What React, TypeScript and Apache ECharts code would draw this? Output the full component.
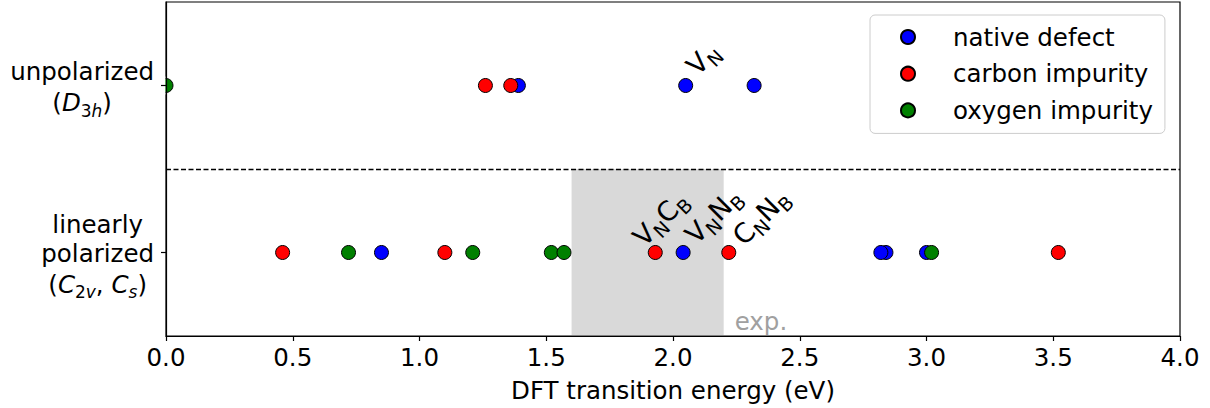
import React, { useEffect, useRef } from 'react';
import * as echarts from 'echarts';

// ---- data ----
const seriesNames = ['native defect', 'carbon impurity', 'oxygen impurity'];
const seriesColors = ['#0000ff', '#ff0000', '#008000'];
// row 1 = unpolarized (D3h), row 0 = linearly polarized (C2v, Cs)
const nativeTop = [1.39, 2.05, 2.32];
const nativeBottom = [0.85, 2.04, 2.84, 2.82, 3.0];
const carbonTop = [1.26, 1.36];
const carbonBottom = [0.46, 1.1, 1.93, 2.22, 3.52];
const oxygenTop = [0.0];
const oxygenBottom = [0.72, 1.21, 1.52, 1.57, 3.02];
const expRange = [1.6, 2.2];
const xMin = 0;
const xMax = 4;
const xStep = 0.5;
const rowLabels = {
  1: '{n|unpolarized}\n{n|(}{i|D}{s|3}{si|h}{n|)}',
  0: '{n|linearly}\n{n|polarized}\n{n|(}{i|C}{s|2}{si|v}{n|, }{i|C}{si|s}{n|)}',
};
const annotations = [
  { text: '{b|V}{s|N}', x: nativeTop[1], row: 1, dx: 17, dy: -27 },
  { text: '{b|V}{s|N}{b|C}{s|B}', x: carbonBottom[2], row: 0, dx: 5, dy: -34 },
  { text: '{b|V}{s|N}{b|N}{s|B}', x: nativeBottom[1], row: 0, dx: 30, dy: -37 },
  { text: '{b|C}{s|N}{b|N}{s|B}', x: carbonBottom[3], row: 0, dx: 32, dy: -36 },
];

const FONT = 'DejaVu Sans';

export default function App() {
  const ref = useRef<HTMLDivElement>(null);
  useEffect(() => {
    if (!ref.current) return;
    const chart = echarts.init(ref.current, undefined, { renderer: 'svg' });
    const rows = [
      [nativeTop, nativeBottom],
      [carbonTop, carbonBottom],
      [oxygenTop, oxygenBottom],
    ];
    const scatterSeries = rows.map((r, i) => ({
      name: seriesNames[i],
      type: 'scatter',
      symbol: 'circle',
      symbolSize: 14,
      z: 2,
      itemStyle: { color: seriesColors[i], borderColor: '#000', borderWidth: 1, opacity: 1 },
      data: [...r[0].map((x) => [x, 1]), ...r[1].map((x) => [x, 0])],
    }));
    const rowRich = {
      n: { fontFamily: FONT, fontSize: 24.5, lineHeight: 29, color: '#000', align: 'center' },
      i: { fontFamily: FONT, fontSize: 24.5, lineHeight: 29, color: '#000', fontStyle: 'italic', align: 'center' },
      s: { fontFamily: FONT, fontSize: 17, lineHeight: 33, color: '#000', verticalAlign: 'bottom', align: 'center' },
      si: { fontFamily: FONT, fontSize: 17, lineHeight: 33, color: '#000', fontStyle: 'italic', verticalAlign: 'bottom', align: 'center' },
    };
    const option: any = {
      animation: false,
      grid: {
        left: 166,
        right: 30,
        top: 2,
        bottom: 72,
        show: true,
        borderColor: '#000',
        borderWidth: 1.2,
        backgroundColor: 'transparent',
      },
      legend: {
        data: seriesNames.map((n) => ({ name: n, icon: 'circle' })),
        orient: 'vertical',
        left: 870,
        top: 15,
        itemWidth: 14,
        itemHeight: 14,
        itemGap: 6.7,
        padding: [7, 12, 8, 30],
        borderColor: '#cccccc',
        borderWidth: 1,
        borderRadius: 5,
        backgroundColor: 'rgba(255,255,255,0.8)',
        textStyle: { fontFamily: FONT, fontSize: 24.5, lineHeight: 30, color: '#000', padding: [0, 0, 0, 33] },
      },
      xAxis: {
        type: 'value',
        min: xMin,
        max: xMax,
        interval: xStep,
        name: 'DFT transition energy (eV)',
        nameLocation: 'middle',
        nameGap: 42,
        nameTextStyle: { fontFamily: FONT, fontSize: 24.5, color: '#000' },
        axisLine: { show: true, onZero: false, lineStyle: { color: '#000', width: 1.2 } },
        axisTick: { show: true, length: 5, lineStyle: { color: '#000', width: 1.2 } },
        axisLabel: {
          fontFamily: FONT,
          fontSize: 24.5,
          color: '#000',
          margin: 9,
          formatter: (v: number) => v.toFixed(1),
        },
        splitLine: { show: false },
      },
      yAxis: {
        type: 'value',
        min: -0.5,
        max: 1.5,
        z: 4,
        axisLine: { show: true, onZero: false, lineStyle: { color: '#000', width: 1.2 } },
        axisTick: { show: true, length: 5, customValues: [0, 1], lineStyle: { color: '#000', width: 1.2 } },
        axisLabel: {
          customValues: [0, 1],
          margin: 12,
          padding: [5, 0, 0, 0],
          formatter: (v: number) => (rowLabels as any)[Math.round(v)] || '',
          rich: rowRich,
        },
        splitLine: { show: false },
      },
      series: [
        ...scatterSeries,
        {
          name: 'divider',
          type: 'scatter',
          data: [],
          z: 10,
          markLine: {
            silent: true,
            symbol: 'none',
            label: { show: false },
            lineStyle: { color: '#000', width: 1.3, type: [5, 2.5] },
            data: [{ yAxis: 0.5 }],
          },
          markArea: {
            silent: true,
            itemStyle: { color: 'rgba(128,128,128,0.3)' },
            label: {
              show: true,
              position: ['100%', '100%'],
              align: 'left',
              verticalAlign: 'middle',
              offset: [11, -15],
              fontFamily: FONT,
              fontSize: 24.5,
              color: '#a0a0a0',
              formatter: 'exp.',
            },
            data: [[{ xAxis: expRange[0], yAxis: -0.5 }, { xAxis: expRange[1], yAxis: 0.5 }]],
          },
        },
      ],
    };
    chart.setOption(option);

    // rotated annotation labels, anchored via the chart's own coordinate conversion
    const rich = {
      b: { fontFamily: FONT, fontSize: 27, lineHeight: 36, fill: '#000', color: '#000' },
      s: { fontFamily: FONT, fontSize: 19, lineHeight: 36, fill: '#000', color: '#000', verticalAlign: 'bottom' },
    };
    const graphics: any[] = annotations.map((a) => {
      const p = chart.convertToPixel({ gridIndex: 0 }, [a.x, a.row]) as number[];
      return {
        type: 'text',
        x: p[0] + a.dx,
        y: p[1] + a.dy,
        rotation: Math.PI / 4,
        z: 100,
        silent: true,
        style: {
          text: a.text,
          rich,
          align: 'center',
          verticalAlign: 'middle',
          fill: '#000',
        },
      };
    });
    // clip the parts of markers that fall left of the plot area (matplotlib clips to axes)
    const edge = chart.convertToPixel({ gridIndex: 0 }, [xMin, 1]) as number[];
    graphics.push({
      type: 'rect',
      z: 3,
      silent: true,
      shape: { x: edge[0] - 12, y: edge[1] - 9, width: 11.4, height: 18 },
      style: { fill: '#ffffff' },
    });
    chart.setOption({ graphic: graphics });
    return () => chart.dispose();
  }, []);
  return (
    <div
      ref={ref}
      style={{ position: 'absolute', left: 0, top: 0, width: 1210, height: 408 }}
    />
  );
}
